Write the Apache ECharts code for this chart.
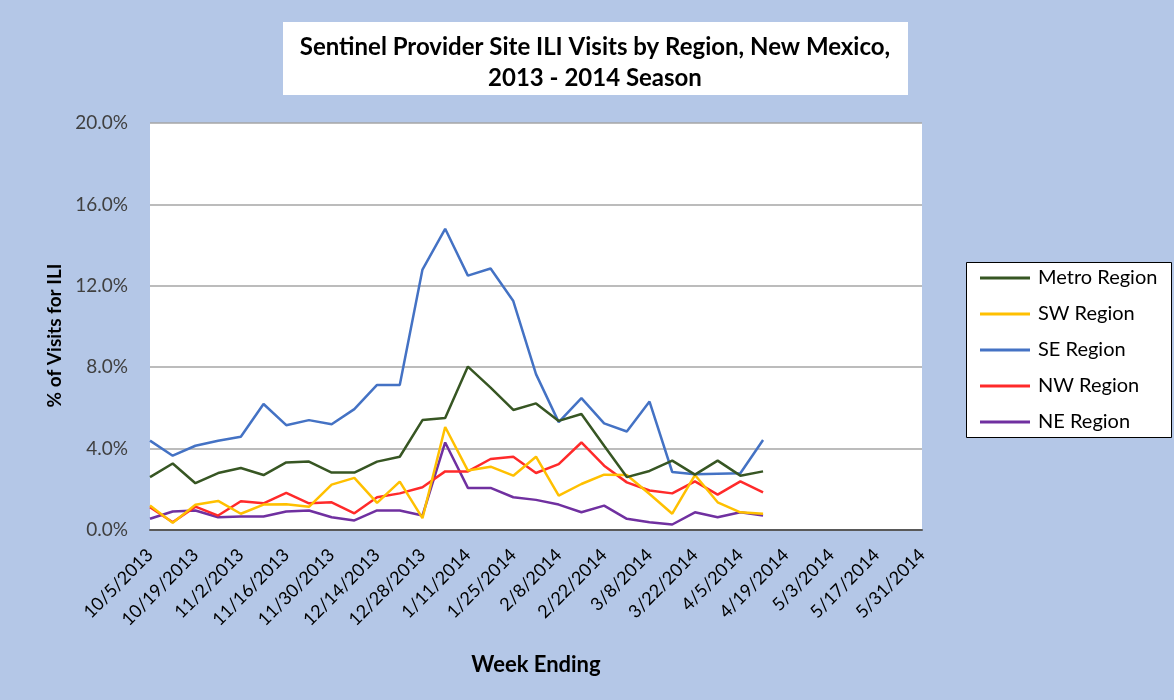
<!DOCTYPE html>
<html>
<head>
<meta charset="utf-8">
<script src="https://cdn.jsdelivr.net/npm/echarts@6/dist/echarts.min.js"></script>
<style>
    html, body { margin: 0; padding: 0; background: #b4c7e7; }
    #chart { width: 1174px; height: 700px; }
</style>
</head>
<body>
<div id="chart"></div>
<script>
    // week ending dates, 10/5/2013 - 5/31/2014
    var weeks = ['10/5/2013', '10/12/2013', '10/19/2013', '10/26/2013', '11/2/2013', '11/9/2013',
        '11/16/2013', '11/23/2013', '11/30/2013', '12/7/2013', '12/14/2013', '12/21/2013',
        '12/28/2013', '1/4/2014', '1/11/2014', '1/18/2014', '1/25/2014', '2/1/2014', '2/8/2014',
        '2/15/2014', '2/22/2014', '3/1/2014', '3/8/2014', '3/15/2014', '3/22/2014', '3/29/2014',
        '4/5/2014', '4/12/2014', '4/19/2014', '4/26/2014', '5/3/2014', '5/10/2014', '5/17/2014',
        '5/24/2014', '5/31/2014'];

    // % of visits for ILI, by region
    var metro = [2.6, 3.27, 2.3, 2.8, 3.05, 2.7, 3.32, 3.36, 2.82, 2.82, 3.36, 3.6, 5.4, 5.5,
        8.03, 7.0, 5.9, 6.22, 5.36, 5.7, 4.14, 2.6, 2.9, 3.41, 2.72, 3.41, 2.67, 2.88];
    var sw = [1.2, 0.35, 1.24, 1.43, 0.8, 1.25, 1.26, 1.14, 2.23, 2.56, 1.33, 2.38, 0.58, 5.06,
        2.92, 3.11, 2.67, 3.6, 1.69, 2.26, 2.72, 2.7, 1.77, 0.8, 2.7, 1.36, 0.87, 0.8];
    var se = [4.39, 3.65, 4.14, 4.39, 4.58, 6.19, 5.15, 5.4, 5.2, 5.94, 7.13, 7.13, 12.8, 14.8,
        12.5, 12.85, 11.25, 7.66, 5.3, 6.48, 5.24, 4.84, 6.31, 2.85, 2.74, 2.77, 2.79, 4.42];
    var nw = [1.12, 0.38, 1.15, 0.71, 1.41, 1.31, 1.82, 1.31, 1.36, 0.82, 1.61, 1.8, 2.1, 2.88,
        2.88, 3.49, 3.6, 2.8, 3.24, 4.3, 3.16, 2.34, 1.94, 1.8, 2.39, 1.74, 2.39, 1.85];
    var ne = [0.55, 0.91, 0.96, 0.63, 0.66, 0.66, 0.91, 0.96, 0.63, 0.47, 0.96, 0.96, 0.71, 4.3,
        2.07, 2.07, 1.61, 1.48, 1.25, 0.87, 1.2, 0.55, 0.38, 0.27, 0.87, 0.63, 0.87, 0.71];

    var regionNames = ['Metro Region', 'SW Region', 'SE Region', 'NW Region', 'NE Region'];
    var regionColors = ['#375623', '#ffc000', '#4472c4', '#ff2a2a', '#7030a0'];
    var regionData = [metro, sw, se, nw, ne];

    var font = 'Lato';

    var seriesList = [];
    for (var i = 0; i < regionNames.length; i++) {
        seriesList.push({
            name: regionNames[i],
            type: 'line',
            data: regionData[i],
            symbol: 'none',
            lineStyle: { width: 2.5, color: regionColors[i] },
            itemStyle: { color: regionColors[i] },
            z: 10 - i
        });
    }

    var option = {
        backgroundColor: '#b4c7e7',
        animation: false,
        textStyle: { fontFamily: font },
        graphic: [
            // white box behind title
            { type: 'rect', shape: { x: 283, y: 22, width: 625, height: 73 }, style: { fill: '#fff' }, silent: true },
            // legend box
            { type: 'rect', shape: { x: 966.5, y: 262.5, width: 205, height: 175 },
              style: { fill: '#fff', stroke: '#000', lineWidth: 1 }, silent: true }
        ],
        title: {
            text: 'Sentinel Provider Site ILI Visits by Region, New Mexico,\n2013 - 2014 Season',
            left: 590,
            top: 27,
            textAlign: 'center',
            textStyle: {
                fontFamily: font,
                fontSize: 24,
                fontWeight: 'bold',
                color: '#000',
                lineHeight: 31
            }
        },
        legend: {
            orient: 'vertical',
            left: 975,
            top: 263,
            icon: 'rect',
            itemWidth: 50,
            itemHeight: 3,
            itemGap: 16,
            textStyle: { fontFamily: font, fontSize: 20, color: '#000', padding: [0, 0, 0, 3] },
            data: regionNames
        },
        grid: {
            left: 150,
            right: 252,
            top: 123,
            bottom: 170,
            show: true,
            backgroundColor: '#fff',
            borderWidth: 0
        },
        xAxis: {
            type: 'category',
            data: weeks,
            boundaryGap: false,
            name: 'Week Ending',
            nameLocation: 'middle',
            nameGap: 124,
            nameTextStyle: { fontFamily: font, fontSize: 22, fontWeight: 'bold', color: '#000' },
            axisLine: { lineStyle: { color: '#595959', width: 2 } },
            axisTick: { show: false },
            axisLabel: {
                interval: 1,
                rotate: 45,
                margin: 22,
                fontFamily: font,
                fontSize: 18,
                color: '#000'
            }
        },
        yAxis: {
            type: 'value',
            min: 0,
            max: 20,
            interval: 4,
            name: '% of Visits for ILI',
            nameLocation: 'middle',
            nameGap: 82,
            nameTextStyle: { fontFamily: font, fontSize: 19, fontWeight: 'bold', color: '#000', padding: [0, 18, 0, 0] },
            axisLine: { show: false },
            axisTick: { show: false },
            axisLabel: {
                margin: 22,
                fontFamily: font,
                fontSize: 19,
                color: '#404040',
                formatter: function (v) { return v.toFixed(1) + '%'; }
            },
            splitLine: { lineStyle: { color: '#a6a6a6', width: 1.5 } }
        },
        series: seriesList
    };

    var chart = echarts.init(document.getElementById('chart'));
    chart.setOption(option);
</script>
</body>
</html>
